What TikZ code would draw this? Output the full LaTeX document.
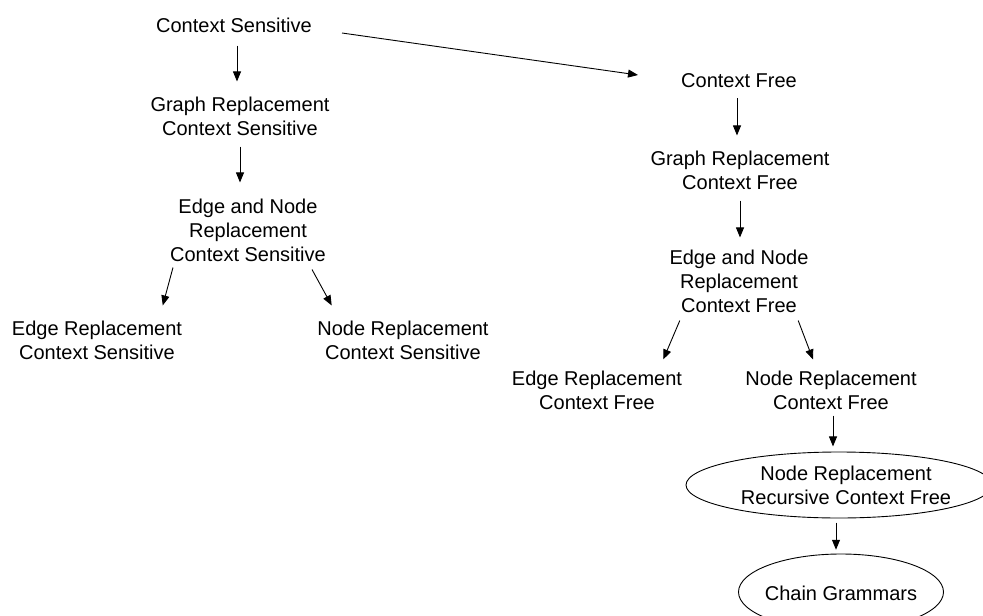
\documentclass[tikz,border=0pt]{standalone}
\usepackage{fontspec}
\setmainfont{Liberation Sans}
\usetikzlibrary{arrows.meta}
\begin{document}
\begin{tikzpicture}[x=1pt,y=-1pt,
  lbl/.style={inner sep=0pt,align=center,font=\fontsize{20}{24}\selectfont},
  arr/.style={draw,line width=0.9pt,-{Triangle[length=10pt,width=8pt]}},
  oval/.style={draw,line width=0.9pt}]
\path[use as bounding box,fill=white] (0,0) rectangle (983,616);
\clip (0,0) rectangle (983,616);

\node[lbl] (cs) at (234,25) {Context Sensitive};
\node[lbl] (grcs) at (240,116) {Graph Replacement\\Context Sensitive};
\node[lbl] (enrcs) at (248,230) {Edge and Node\\Replacement\\Context Sensitive};
\node[lbl] (ercs) at (97,340) {Edge Replacement\\Context Sensitive};
\node[lbl] (nrcs) at (403,340) {Node Replacement\\Context Sensitive};

\node[lbl] (cf) at (739,81) {Context Free};
\node[lbl] (grcf) at (740,170) {Graph Replacement\\Context Free};
\node[lbl] (enrcf) at (739,281) {Edge and Node\\Replacement\\Context Free};
\node[lbl] (ercf) at (597,390) {Edge Replacement\\Context Free};
\node[lbl] (nrcf) at (831,390) {Node Replacement\\Context Free};
\node[lbl] (nrrcf) at (846,485) {Node Replacement\\Recursive Context Free};
\node[lbl] (cg) at (841,593) {Chain Grammars};

\draw[oval] ([xshift=-7pt]nrrcf.center) ellipse [x radius=153pt, y radius=33pt];
\draw[oval] ([yshift=1pt]cg.center) ellipse [x radius=102.5pt, y radius=38pt];

\draw[arr,shorten <=13pt,shorten >=15pt] ([xshift=3pt]cs.south) -- ([xshift=-3pt]grcs.north);
\draw[arr,shorten <=11pt,shorten >=16pt] (grcs.south) -- ([xshift=-8pt]enrcs.north);
\draw[arr] ([shift={(3pt,-6pt)}]enrcs.south west) -- ([shift={(-19.5pt,15pt)}]ercs.north east);
\draw[arr] ([shift={(-14pt,-8pt)}]enrcs.south east) -- ([shift={(14.5pt,15pt)}]nrcs.north west);
\draw[arr] ([shift={(30pt,-8pt)}]cs.east) -- ([shift={(-43pt,6pt)}]cf.west);

\draw[arr,shorten <=10pt,shorten >=15pt] ([xshift=-2pt]cf.south) -- ([xshift=-3pt]grcf.north);
\draw[arr,shorten <=11pt,shorten >=12pt] (grcf.south) -- ([xshift=1pt]enrcf.north);
\draw[arr] ([shift={(10.5pt,-8pt)}]enrcf.south west) -- ([shift={(-19pt,11pt)}]ercf.north east);
\draw[arr] ([shift={(-10.5pt,-8pt)}]enrcf.south east) -- ([shift={(-18pt,11pt)}]nrcf.north);
\draw[arr] ([shift={(2pt,-6pt)}]nrcf.south) -- ([shift={(-13pt,19pt)}]nrrcf.north);
\draw[arr] ([shift={(-10pt,-18pt)}]nrrcf.south) -- ([shift={(-5pt,35.7pt)}]cg.north);
\end{tikzpicture}
\end{document}
